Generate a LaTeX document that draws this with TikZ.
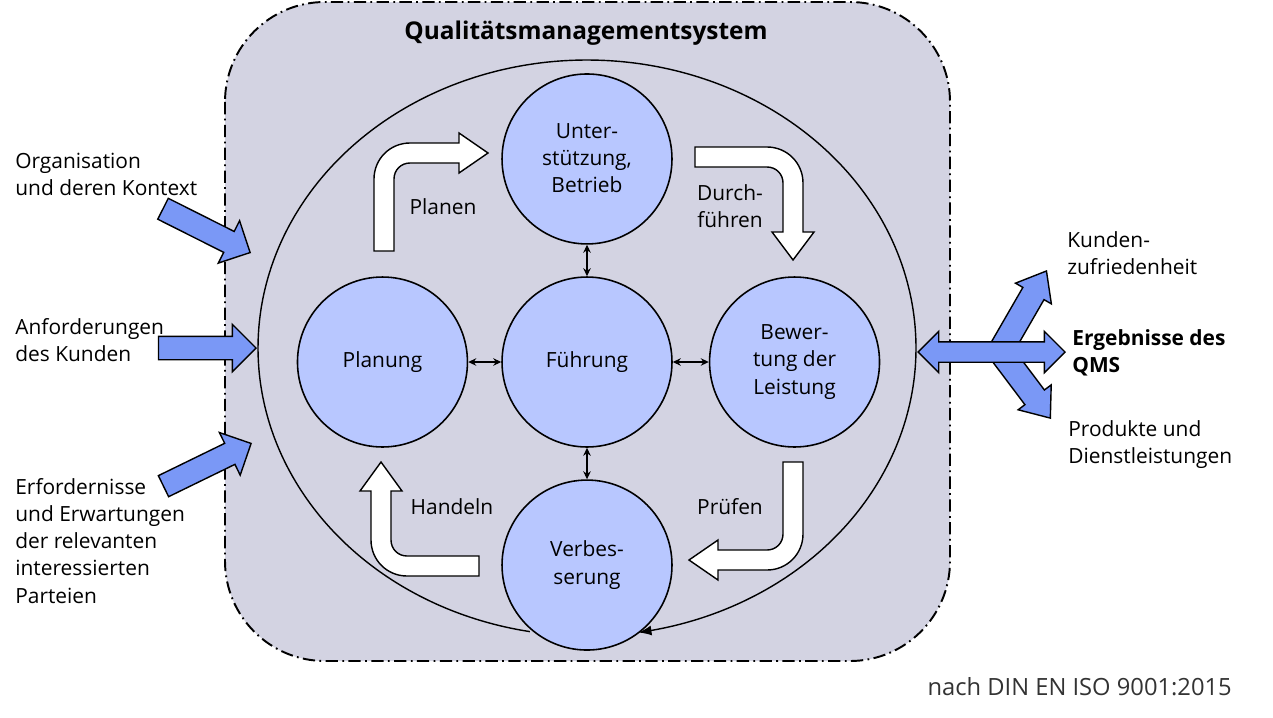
\documentclass[tikz,border=0pt]{standalone}
\usepackage{fontspec}
\setmainfont{Open Sans}
\usetikzlibrary{arrows.meta,positioning,shapes.arrows}

\definecolor{qmsgrau}{RGB}{211,211,226}
\definecolor{qmskreis}{RGB}{184,199,255}
\definecolor{qmspfeil}{RGB}{122,152,246}

\begin{document}
\begin{tikzpicture}[
        x=0.02cm, y=-0.02cm,
        font=\fontsize{11.9}{15.4}\selectfont,
        node distance=0.63cm and 0.66cm,
        rahmen/.style={draw, fill=qmsgrau, rounded corners=2cm, line width=1.1pt, dash pattern=on 7pt off 2.5pt on 1pt off 2.5pt},
        kreis/.style={draw, circle, fill=qmskreis, line width=0.9pt, minimum size=3.4cm, inner sep=0pt, align=center},
        randtext/.style={align=left, anchor=west, inner sep=0pt},
        eingang/.style={single arrow, draw, fill=qmspfeil, line width=0.8pt, inner xsep=0pt, inner ysep=0.22cm, minimum height=1.95cm, single arrow head extend=0.24cm, single arrow tip angle=90, anchor=tip},
        ausgang/.style={single arrow, draw, fill=qmspfeil, line width=0.8pt, inner xsep=0pt, inner ysep=0.23cm, minimum height=1.88cm, single arrow head extend=0.17cm, single arrow tip angle=77, anchor=tip},
        ergebnispfeil/.style={double arrow, draw, fill=qmspfeil, line width=0.8pt, inner xsep=0pt, inner ysep=0.19cm, minimum height=2.94cm, double arrow head extend=0.21cm, double arrow tip angle=90},
        bogenpfeil/.style={draw, fill=white, line width=0.8pt},
        umlauf/.style={-{Latex[length=2.6mm, width=2mm]}, line width=0.8pt},
        doppelpfeil/.style={{Stealth[length=1.6mm, width=1.5mm]}-{Stealth[length=1.6mm, width=1.5mm]}, line width=0.6pt}
    ]
        \useasboundingbox (0,0) rectangle (1273,717);

        % Rahmen und Titel
        \draw[rahmen] (225,2) rectangle (950,661);
        \node[font=\fontsize{13.9}{16}\selectfont\bfseries] (titel) at (586,33) {Qualitätsmanagementsystem};

        % Kreislauf
        \draw[umlauf] plot[domain=100:441, samples=160, smooth] ({587+329*cos(\x)}, {348+288*sin(\x)});

        \node[kreis] (fuehrung) at (587,362) {Führung};
        \node[kreis, above=of fuehrung, label={[align=center, yshift=0.02cm]center:Unter-\\stützung,\\Betrieb}] (unterstuetzung) {};
        \node[kreis, left=of fuehrung] (planung) {Planung};
        \node[kreis, right=0.72cm of fuehrung] (bewertung) {Bewer-\\tung der\\Leistung};
        \node[kreis, below=of fuehrung] (verbesserung) {Verbes-\\serung};

        \draw[doppelpfeil] (unterstuetzung) -- (fuehrung);
        \draw[doppelpfeil] (fuehrung) -- (verbesserung);
        \draw[doppelpfeil] (planung) -- (fuehrung);
        \draw[doppelpfeil] (fuehrung) -- (bewertung);

        % PDCA-Pfeile
        \draw[bogenpfeil] (374,251) -- (374,179) .. controls (374,159) and (390,143) .. (410,143) -- (459,143) -- (459,133) -- (488,153) -- (459,173) -- (459,163) -- (410,163) .. controls (401,163) and (394,170) .. (394,179) -- (394,251) -- cycle;
        \draw[bogenpfeil] (695,147) -- (767,147) .. controls (787,147) and (803,163) .. (803,183) -- (803,232) -- (814,232) -- (793,260) -- (772,232) -- (783,232) -- (783,183) .. controls (783,174) and (776,167) .. (767,167) -- (695,167) -- cycle;
        \draw[bogenpfeil] (783,462) -- (803,462) -- (803,534) .. controls (803,554) and (787,570) .. (767,570) -- (718,570) -- (718,580) -- (689,560) -- (718,540) -- (718,550) -- (767,550) .. controls (776,550) and (783,543) .. (783,534) -- cycle;
        \draw[bogenpfeil] (479,556) -- (479,576) -- (407,576) .. controls (387,576) and (371,560) .. (371,540) -- (371,491) -- (360,491) -- (381,462) -- (402,491) -- (391,491) -- (391,540) .. controls (391,549) and (398,556) .. (407,556) -- cycle;

        \node (planen) at (443,207) {Planen};
        \node[align=center] (durchfuehren) at (730,206) {Durch-\\führen};
        \node (pruefen) at (730,507) {Prüfen};
        \node (handeln) at (452,507) {Handeln};

        % Eingaben
        \node[randtext] (organisation) at (15,174) {Organisation\\und deren Kontext};
        \node[randtext] (anforderungen) at (15,340) {Anforderungen\\des Kunden};
        \node[randtext] (erfordernisse) at (15,541) {Erfordernisse\\und Erwartungen\\der relevanten\\interessierten\\Parteien};

        \node[eingang, rotate=-26.7] (pfeil-kontext) at (251,253) {};
        \node[eingang] (pfeil-kunden) at (257,348) {};
        \node[eingang, rotate=26] (pfeil-parteien) at (252,443) {};

        % Ergebnisse
        \node[ausgang, rotate=60] (pfeil-zufriedenheit) at (1047,270) {};
        \node[ausgang, rotate=-53, minimum height=1.68cm] (pfeil-produkte) at (1051,419) {};
        \node[ergebnispfeil] (pfeil-ergebnisse) at (991.5,352) {};

        \node[randtext] (zufriedenheit) at (1067,253) {Kunden-\\zufriedenheit};
        \node[randtext, font=\fontsize{11.9}{15.4}\selectfont\bfseries] (ergebnisse) at (1072,353) {Ergebnisse des\\QMS};
        \node[randtext] (produkte) at (1068,445) {Produkte und\\Dienstleistungen};

        \node[anchor=east, inner sep=0pt, font=\fontsize{13.5}{16}\selectfont, text=black!80] (quelle) at (1232,687) {nach DIN EN ISO 9001:2015};
    \end{tikzpicture}
\end{document}
